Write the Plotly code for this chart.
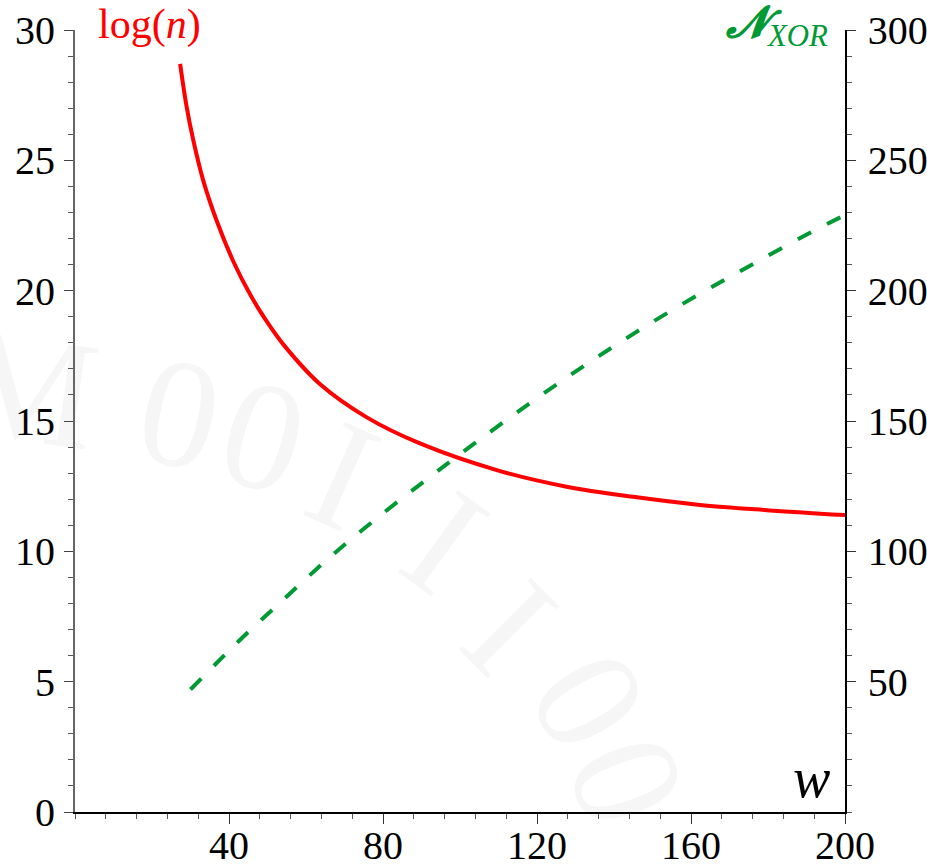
import plotly.graph_objects as go

# ---- data ----
w_logn = [27.3, 29.0, 30.7, 33.3, 36.8, 41.1, 45.5, 49.8, 54.1, 63.6, 75.8, 89.6,
          110.4, 127.7, 145.0, 162.3, 179.7, 200.0]
logn = [28.7, 27.05, 25.79, 24.23, 22.68, 21.13, 19.85, 18.82, 17.94, 16.42, 15.14, 14.14,
        13.08, 12.48, 12.09, 11.78, 11.58, 11.39]

w_nxor = [30.0, 42.5, 54.5, 66.4, 79.5, 92.6, 105.7, 119.9, 133.8, 147.6, 162.2,
          176.8, 191.4, 200.0]
nxor = [47.0, 65.5, 82.0, 98.0, 114.0, 129.0, 143.5, 158.7, 172.7, 185.8, 198.7,
        210.8, 222.6, 229.0]

x_ticks = [40, 80, 120, 160, 200]
y_left_ticks = [0, 5, 10, 15, 20, 25, 30]
y_right_ticks = [50, 100, 150, 200, 250, 300]

# watermark characters (faint background text)
wm_chars = ["M", "0", "0", "I", "I", "I", "0", "0"]
wm_px = [30, 183, 268, 350, 455, 522, 604, 643]
wm_py = [372, 397, 420, 460, 528, 615, 692, 775]
wm_angle = [8, 12, 16, 24, 36, 45, 60, 70]

FONT = "Liberation Serif"
RED = "#ff0000"
GREEN = "#009933"

W, H = 927, 866
ML, MT = 75, 30
PW, PH = 770, 782
MR = W - ML - PW
MB = H - MT - PH


def px2paper(px, py):
    return (px - ML) / PW, (MT + PH - py) / PH


fig = go.Figure()
fig.add_trace(go.Scatter(x=w_logn, y=logn, mode="lines",
                         line=dict(color=RED, width=4, shape="spline"),
                         yaxis="y", showlegend=False))
fig.add_trace(go.Scatter(x=w_nxor, y=nxor, mode="lines",
                         line=dict(color=GREEN, width=4, dash="15px,18px", shape="spline"),
                         yaxis="y2", showlegend=False))

shapes = []
for ch, px, py, ang in zip(wm_chars, wm_px, wm_py, wm_angle):
    xp, yp = px2paper(px, py)
    shapes.append(dict(type="rect", xref="paper", yref="paper",
                       x0=xp - 0.01, x1=xp + 0.01, y0=yp - 0.01, y1=yp + 0.01,
                       line=dict(width=0), fillcolor="rgba(0,0,0,0)", layer="below",
                       label=dict(text=ch, textangle=ang, textposition="middle center",
                                  font=dict(family=FONT, size=155, color="#f6f6f6"))))

tickfont = dict(family=FONT, size=40, color="black")

ax_log = px2paper(96, 50)
ax_nx = px2paper(830, 55)
ax_w = px2paper(832, 778)

fig.update_layout(
    width=W, height=H, autosize=False,
    margin=dict(l=ML, r=MR, t=MT, b=MB, autoexpand=False),
    paper_bgcolor="white", plot_bgcolor="rgba(0,0,0,0)",
    shapes=shapes,
    xaxis=dict(range=[0, 200], tickmode="array", tickvals=x_ticks,
               ticktext=[str(v) for v in x_ticks], automargin=False,
               showgrid=False, zeroline=False, showline=True, linecolor="black",
               linewidth=1.5, ticks="outside", ticklen=10, tickwidth=1.2,
               tickcolor="#333", tickfont=tickfont, ticklabelstandoff=-13,
               minor=dict(ticks="outside", dtick=8, tick0=0, ticklen=5,
                          tickcolor="#555", tickwidth=1, showgrid=False)),
    yaxis=dict(range=[0, 30], tickmode="array", tickvals=y_left_ticks, automargin=False,
               showgrid=False, zeroline=False, showline=True, linecolor="#666",
               linewidth=2, ticks="outside", ticklen=9, tickwidth=1.2,
               tickcolor="#444", tickfont=tickfont, ticklabelstandoff=1,
               minor=dict(ticks="outside", dtick=1, tick0=0, ticklen=5,
                          tickcolor="#555", tickwidth=1, showgrid=False)),
    yaxis2=dict(range=[0, 300], overlaying="y", side="right", tickmode="array",
                tickvals=y_right_ticks, automargin=False, showgrid=False, zeroline=False,
                showline=True, linecolor="black", linewidth=1.5, ticks="outside",
                ticklen=9, tickwidth=1.2, tickcolor="#333", tickfont=tickfont,
                ticklabelstandoff=4,
                minor=dict(ticks="outside", dtick=10, tick0=0, ticklen=5,
                           tickcolor="#555", tickwidth=1, showgrid=False)),
    annotations=[
        dict(text="log(<i>n</i>)", xref="paper", yref="paper",
             x=ax_log[0], y=ax_log[1], xanchor="left", yanchor="bottom",
             showarrow=False, font=dict(family=FONT, size=42, color=RED)),
        dict(text="<b><i>𝓝</i></b><sub><i>XOR</i></sub>", xref="paper", yref="paper",
             x=ax_nx[0], y=ax_nx[1], xanchor="right", yanchor="bottom",
             showarrow=False, font=dict(family=FONT, size=44, color=GREEN)),
        dict(text="<i>w</i>", xref="paper", yref="paper",
             x=ax_w[0], y=ax_w[1], xanchor="right", yanchor="middle",
             showarrow=False, font=dict(family=FONT, size=56, color="black")),
    ],
)

fig.write_html("out.html", config={"displayModeBar": False},
               post_script="document.body.style.margin='0';document.body.style.overflow='hidden';")
